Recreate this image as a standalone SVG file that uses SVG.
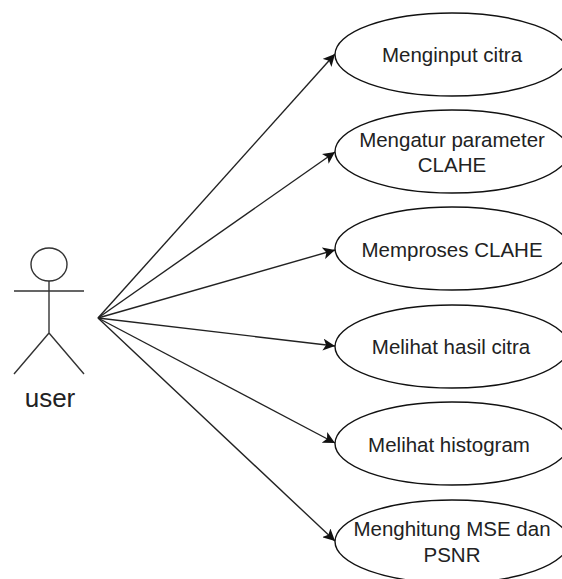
<svg xmlns="http://www.w3.org/2000/svg" width="562" height="579" viewBox="0 0 562 579">
<style>
text{font-family:"Liberation Sans",Arial,sans-serif;font-size:20.5px;fill:#222;text-anchor:middle}
.u{fill:#fff;stroke:#111;stroke-width:1.4}
.a{fill:none;stroke:#333;stroke-width:1.4}
.c{fill:none;stroke:#222;stroke-width:1.4;marker-end:url(#arr)}
</style>
<defs><marker id="arr" markerUnits="userSpaceOnUse" markerWidth="13" markerHeight="12" refX="12" refY="6" orient="auto"><path d="M0 0L12 6L0 12L3 6Z" fill="#111"/></marker></defs>
<rect width="562" height="579" fill="#fff"/>
<g id="connectors">
<line class="c" x1="98" y1="318" x2="335" y2="54"/>
<line class="c" x1="98" y1="318" x2="335" y2="152"/>
<line class="c" x1="98" y1="318" x2="335" y2="250"/>
<line class="c" x1="98" y1="318" x2="335" y2="346"/>
<line class="c" x1="98" y1="318" x2="335" y2="443"/>
<line class="c" x1="98" y1="318" x2="335" y2="541"/>
</g>
<g id="actor-user">
<ellipse class="a" cx="49" cy="264.5" rx="18" ry="16.5"/>
<path class="a" d="M49 281V333M14 291H84M49 333L14 374M49 333L84 374"/>
<text x="50" y="407" style="font-size:26px">user</text>
</g>
<g id="uc1"><ellipse class="u" cx="452" cy="54.5" rx="117" ry="41.5"/><text x="452" y="62">Menginput citra</text></g>
<g id="uc2"><ellipse class="u" cx="452" cy="151.5" rx="117" ry="41.5"/><text x="452" y="147">Mengatur parameter</text><text x="452" y="172">CLAHE</text></g>
<g id="uc3"><ellipse class="u" cx="452" cy="248.5" rx="117" ry="41.5"/><text x="452" y="257">Memproses CLAHE</text></g>
<g id="uc4"><ellipse class="u" cx="452" cy="346.5" rx="117" ry="41.5"/><text x="451" y="354">Melihat hasil citra</text></g>
<g id="uc5"><ellipse class="u" cx="452" cy="443.5" rx="117" ry="41.5"/><text x="449" y="452">Melihat histogram</text></g>
<g id="uc6"><ellipse class="u" cx="452" cy="541.5" rx="117" ry="41.5"/><text x="452" y="536">Menghitung MSE dan</text><text x="452" y="562">PSNR</text></g>
</svg>
